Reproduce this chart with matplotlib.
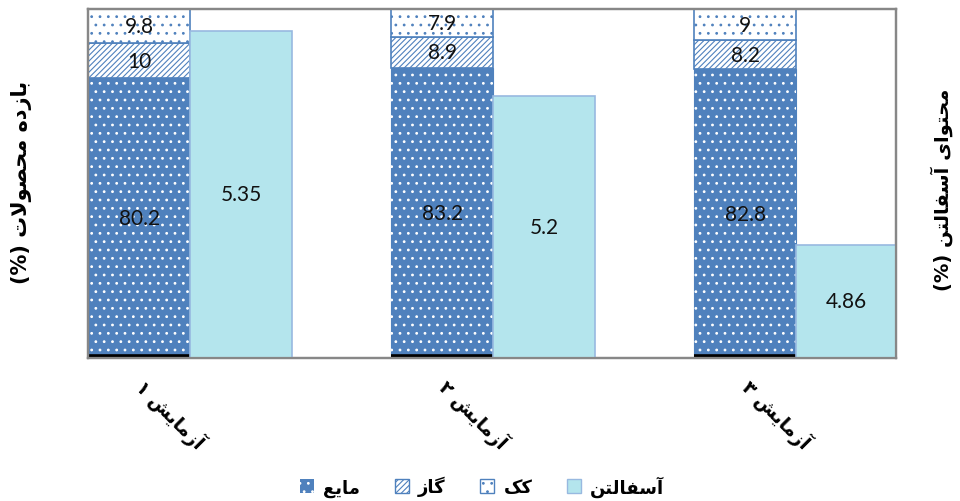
import numpy as np
import matplotlib

matplotlib.use("Agg")
import matplotlib.pyplot as plt
import matplotlib.transforms as mtransforms
from matplotlib.patches import Patch

# Product yields (%) per test, stacked bottom -> top
tests = ["آزمایش ۱", "آزمایش ۲", "آزمایش ۳"]
liquid = [80.2, 83.2, 82.8]
gas = [10, 8.9, 8.2]
coke = [9.8, 7.9, 9]
# Asphaltene content (%) on the secondary axis
asphaltene = [5.35, 5.2, 4.86]

series_names = ["مایع", "گاز", "کک", "آسفالتن"]
ylabel_left = "بازده محصولات"
ylabel_right = "محتوای آسفالتن"

BLUE = "#4f81bd"
CYAN = "#b4e5ed"
CYAN_EDGE = "#98b9e0"
FRAME = "#878787"

# Minimal Persian shaping: (isolated, final, initial, medial)
FORMS = {
    "\u0627": ("\ufe8d", "\ufe8e", None, None),
    "\u0622": ("\ufe81", "\ufe82", None, None),
    "\u0628": ("\ufe8f", "\ufe90", "\ufe91", "\ufe92"),
    "\u062a": ("\ufe95", "\ufe96", "\ufe97", "\ufe98"),
    "\u062d": ("\ufea1", "\ufea2", "\ufea3", "\ufea4"),
    "\u062f": ("\ufea9", "\ufeaa", None, None),
    "\u0631": ("\ufead", "\ufeae", None, None),
    "\u0632": ("\ufeaf", "\ufeb0", None, None),
    "\u0633": ("\ufeb1", "\ufeb2", "\ufeb3", "\ufeb4"),
    "\u0634": ("\ufeb5", "\ufeb6", "\ufeb7", "\ufeb8"),
    "\u0635": ("\ufeb9", "\ufeba", "\ufebb", "\ufebc"),
    "\u0639": ("\ufec9", "\ufeca", "\ufecb", "\ufecc"),
    "\u0641": ("\ufed1", "\ufed2", "\ufed3", "\ufed4"),
    "\u0644": ("\ufedd", "\ufede", "\ufedf", "\ufee0"),
    "\u0645": ("\ufee1", "\ufee2", "\ufee3", "\ufee4"),
    "\u0646": ("\ufee5", "\ufee6", "\ufee7", "\ufee8"),
    "\u0647": ("\ufee9", "\ufeea", "\ufeeb", "\ufeec"),
    "\u0648": ("\ufeed", "\ufeee", None, None),
    "\u06cc": ("\ufbfc", "\ufbfd", "\ufbfe", "\ufbff"),
    "\u06a9": ("\ufb8e", "\ufb8f", "\ufb90", "\ufb91"),
    "\u06af": ("\ufb92", "\ufb93", "\ufb94", "\ufb95"),
}
LAM_ALEF = {"\u0627": ("\ufefb", "\ufefc"), "\u0622": ("\ufef5", "\ufef6")}


def joins_next(ch):
    return ch in FORMS and FORMS[ch][2] is not None


def fa(text):
    out = []
    i = 0
    n = len(text)
    while i < n:
        ch = text[i]
        if ch not in FORMS:
            out.append(ch)
            i += 1
            continue
        prev = text[i - 1] if i > 0 else ""
        jp = joins_next(prev)
        if ch == "\u0644" and i + 1 < n and text[i + 1] in LAM_ALEF:
            lig = LAM_ALEF[text[i + 1]]
            out.append(lig[1] if jp else lig[0])
            i += 2
            continue
        nxt = text[i + 1] if i + 1 < n else ""
        jn = joins_next(ch) and nxt in FORMS
        iso, fin, ini, med = FORMS[ch]
        if jp and jn:
            out.append(med)
        elif jp:
            out.append(fin)
        elif jn:
            out.append(ini)
        else:
            out.append(iso)
        i += 1
    return "".join(reversed(out))


FA_FONT = ["DejaVu Sans"]
NUM_FONT = ["Lato", "DejaVu Sans"]

plt.rcParams["hatch.linewidth"] = 0.8

fig = plt.figure(figsize=(9.6, 5.02), dpi=100)
ax = fig.add_axes([88 / 960, 1 - 359 / 502, (896 - 88) / 960, (359 - 10) / 502])
ax2 = ax.twinx()

x = np.arange(len(tests))
w = 0.336
xl = x - w / 2
xr = x + w / 2

liquid = np.array(liquid)
gas = np.array(gas)
coke = np.array(coke)

# stacked yield bars
b_liq = ax.bar(xl, liquid, w, color=BLUE, edgecolor=BLUE, linewidth=0.8, zorder=2)
ax.bar(xl, liquid, w, color="none", edgecolor="white", linewidth=0, hatch="..", zorder=3)
b_gas = ax.bar(xl, gas, w, bottom=liquid, color="white", edgecolor=BLUE, linewidth=1.2, zorder=2)
ax.bar(xl, gas, w, bottom=liquid, color="none", edgecolor=BLUE, linewidth=0, hatch="//////", zorder=3)
b_coke = ax.bar(xl, coke, w, bottom=liquid + gas, color="white", edgecolor=BLUE, linewidth=1.2, zorder=2)
ax.bar(xl, coke, w, bottom=liquid + gas, color="none", edgecolor=BLUE, linewidth=0, hatch="..", zorder=3)

# dark base strip inside the liquid bars
for p in b_liq:
    ax.plot([p.get_x(), p.get_x() + p.get_width()], [0, 0], color="black",
            linewidth=5.5, solid_capstyle="butt", zorder=4, clip_on=True)

for bars, vals in ((b_liq, liquid), (b_gas, gas), (b_coke, coke)):
    ax.bar_label(bars, labels=[f"{v:g}" for v in vals], label_type="center",
                 fontsize=15, color="#111111", family=NUM_FONT, zorder=5)

b_asp = ax2.bar(xr, asphaltene, w, color=CYAN, edgecolor=CYAN_EDGE, linewidth=1.2)
ax2.bar_label(b_asp, labels=[f"{v:g}" for v in asphaltene], label_type="center",
              fontsize=15, color="#111111", family=NUM_FONT)

ax.set_xlim(-0.337, 2.33)
ax.set_ylim(0, 100)
ax2.set_ylim(4.6, 5.4)
ax.set_yticks([])
ax2.set_yticks([])

for a in (ax, ax2):
    for s in a.spines.values():
        s.set_color(FRAME)
        s.set_linewidth(1.6)

ax.set_xticks(x)
ax.set_xticklabels([fa(t) for t in tests], rotation=-45, ha="center", va="top",
                   fontsize=13.5, fontweight="bold", family=FA_FONT)
ax.tick_params(axis="x", length=0, pad=12)
shift = mtransforms.ScaledTranslation(-20 / 100, 0, fig.dpi_scale_trans)
for lbl in ax.get_xticklabels():
    lbl.set_transform(lbl.get_transform() + shift)

fig.text(22 / 960, 1 - 182 / 502, "(%) " + fa(ylabel_left), rotation=90,
         ha="center", va="center", fontsize=15, fontweight="bold", family=FA_FONT)
fig.text(942 / 960, 1 - 190 / 502, "(%) " + fa(ylabel_right), rotation=90,
         ha="center", va="center", fontsize=14, fontweight="bold", family=FA_FONT)

handles = [
    Patch(facecolor=BLUE, edgecolor="white", hatch="..", linewidth=0),
    Patch(facecolor="white", edgecolor=BLUE, hatch="//////", linewidth=1),
    Patch(facecolor="white", edgecolor=BLUE, hatch="..", linewidth=1),
    Patch(facecolor=CYAN, edgecolor=CYAN_EDGE, linewidth=1),
]
fig.legend(handles, [fa(s) for s in series_names], loc="center",
           bbox_to_anchor=(482 / 960, 1 - 487 / 502), ncol=4, frameon=False,
           handlelength=0.8, handleheight=0.8, handletextpad=0.5, columnspacing=1.9,
           prop={"family": FA_FONT, "weight": "bold", "size": 13})

fig.savefig("out.png", dpi=100)
